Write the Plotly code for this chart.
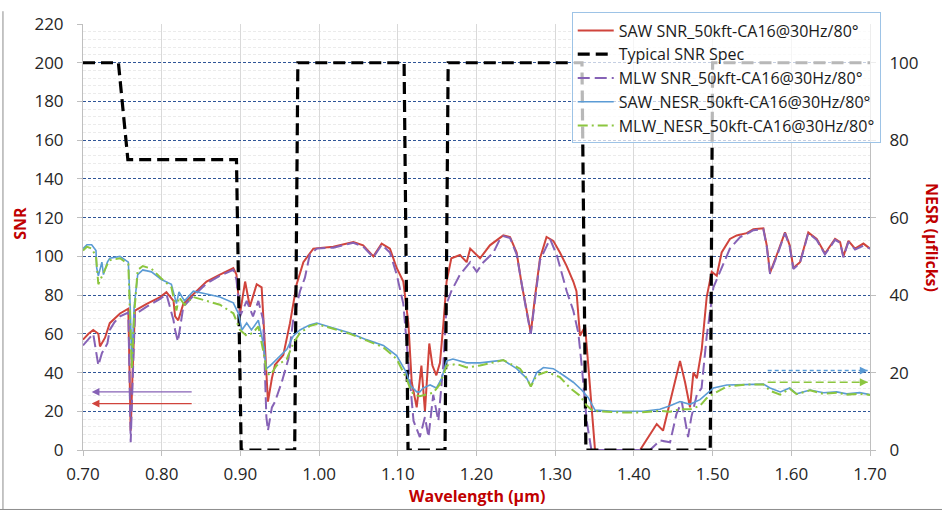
import plotly.graph_objects as go

# ---------------- data ----------------
wl_saw_snr = [0.700, 0.707, 0.713, 0.7195, 0.7216, 0.728, 0.734, 0.740, 0.747, 0.7576, 0.7606, 0.763, 0.766,
              0.781, 0.798, 0.806, 0.815, 0.817, 0.821, 0.8275, 0.840, 0.857, 0.874, 0.891, 0.895, 0.8995,
              0.906, 0.912, 0.9207, 0.927, 0.931, 0.935, 0.940, 0.944, 0.9545, 0.963, 0.9715, 0.980, 0.9927,
              1.018, 1.0435, 1.056, 1.069, 1.0795, 1.090, 1.0986, 1.107, 1.1134, 1.1177, 1.124, 1.130, 1.1345,
              1.140, 1.144, 1.149, 1.1536, 1.158, 1.162, 1.168, 1.179, 1.1875, 1.192, 1.2045, 1.217, 1.234,
              1.2426, 1.251, 1.2574, 1.2638, 1.269, 1.2743, 1.2807, 1.289, 1.2976, 1.306, 1.3146, 1.323, 1.327,
              1.3315, 1.338, 1.344, 1.3506, 1.4078, 1.416, 1.429, 1.437, 1.450, 1.4586, 1.465, 1.4713, 1.4756,
              1.480, 1.4862, 1.4925, 1.4989, 1.5053, 1.5115, 1.522, 1.5306, 1.5433, 1.5518, 1.5645, 1.5688,
              1.573, 1.5815, 1.592, 1.598, 1.6026, 1.611, 1.6216, 1.6323, 1.6428, 1.6556, 1.662, 1.6662,
              1.6726, 1.681, 1.6916, 1.700]
saw_snr = [57, 60, 62, 60, 53.5, 58, 65.5, 68, 70.5, 73, 10, 40, 72,
           75.5, 79, 81.5, 77, 69, 67, 75.5, 80.5, 87, 90.6, 94, 90.6, 70.5,
           87, 74, 85.6, 84, 55, 25, 37, 44, 49, 65.5, 85.6, 97, 104,
           105, 107.4, 105.7, 100, 106.6, 104, 94, 87, 65.5, 35, 22, 43.6, 20,
           55, 43.6, 38.6, 45, 65.5, 87, 99, 100.7, 97, 104, 99, 105.7, 110.8,
           110, 102, 85.6, 72, 60.4, 79, 99, 110, 108, 102, 95, 87, 82,
           59, 63.8, 33.6, 0, 0, 5, 13.4, 10, 32, 46, 35, 22, 40,
           37, 52, 79, 92, 90, 102, 109, 110.8, 112, 114, 114.5, 105.7,
           91.5, 100.7, 112.4, 105.7, 94, 97, 112.4, 109, 101.5, 109, 107.4, 100,
           108, 104, 106.6, 104]

wl_mlw_snr = [0.700, 0.707, 0.713, 0.7195, 0.724, 0.731, 0.734, 0.740, 0.747, 0.7576, 0.7606, 0.763, 0.766,
              0.781, 0.798, 0.806, 0.815, 0.817, 0.8206, 0.8275, 0.840, 0.857, 0.874, 0.891, 0.895, 0.8995,
              0.908, 0.916, 0.9228, 0.929, 0.933, 0.935, 0.940, 0.944, 0.9525, 0.961, 0.967, 0.9757, 0.982,
              0.988, 0.997, 1.018, 1.0435, 1.056, 1.069, 1.0795, 1.090, 1.0986, 1.107, 1.1134, 1.120, 1.128,
              1.1345, 1.139, 1.145, 1.1515, 1.158, 1.162, 1.168, 1.179, 1.192, 1.2003, 1.2088, 1.2215, 1.2299,
              1.234, 1.2426, 1.251, 1.2574, 1.2638, 1.269, 1.2743, 1.2807, 1.2934, 1.302, 1.3146, 1.323, 1.3294,
              1.3337, 1.340, 1.346, 1.4205, 1.4333, 1.446, 1.454, 1.4608, 1.4688, 1.473, 1.480, 1.486, 1.4925,
              1.501, 1.509, 1.522, 1.535, 1.5433, 1.5518, 1.5645, 1.5688, 1.573, 1.5815, 1.592, 1.598, 1.6026,
              1.611, 1.6216, 1.6323, 1.6428, 1.6556, 1.662, 1.6662, 1.6726, 1.681, 1.6916, 1.700]
mlw_snr = [54, 57, 60, 43.6, 50, 55, 62, 66, 69, 71, 4, 35, 70,
           74, 78, 80.5, 67, 62, 56, 74, 79.5, 86, 90, 93, 88, 69,
           77, 69, 77, 67, 17, 10, 22, 25, 35, 47, 67, 82, 89,
           100.7, 104, 104.5, 107, 105, 99.5, 106, 102, 90.6, 75.5, 45, 15, 6.7,
           17, 6.7, 28.5, 15, 45, 75.5, 82, 90.6, 97, 92, 97, 102, 109,
           110.5, 109.5, 101, 85, 71, 60, 78, 98, 109, 100.7, 82, 72, 60.4,
           43.6, 15, 0, 0, 5, 4, 18.5, 25, 6.7, 17, 28.5, 32, 58.7,
           84, 92, 104, 110, 111.5, 113.5, 114, 105, 91, 100, 112, 105, 93.5,
           96.5, 112, 108.5, 101, 108.5, 107, 99.5, 107.5, 103.5, 105.5, 104]

wl_saw_nesr = [0.700, 0.705, 0.711, 0.7165, 0.7174, 0.7195, 0.724, 0.726, 0.731, 0.734, 0.747, 0.7576, 0.760,
               0.762, 0.765, 0.7695, 0.776, 0.787, 0.7996, 0.8123, 0.8187, 0.822, 0.829, 0.8402, 0.857, 0.874,
               0.891, 0.8974, 0.902, 0.908, 0.914, 0.9228, 0.929, 0.933, 0.938, 0.946, 0.959, 0.967, 0.9757,
               0.988, 0.997, 1.018, 1.0393, 1.060, 1.0817, 1.0985, 1.111, 1.1155, 1.124, 1.128, 1.132, 1.141,
               1.149, 1.1557, 1.162, 1.170, 1.1875, 1.2045, 1.2215, 1.234, 1.251, 1.2638, 1.269, 1.2765, 1.285,
               1.2976, 1.3103, 1.323, 1.3337, 1.342, 1.3506, 1.374, 1.3908, 1.412, 1.433, 1.446, 1.4586, 1.4713,
               1.484, 1.4925, 1.501, 1.518, 1.5433, 1.5645, 1.573, 1.586, 1.598, 1.6068, 1.6238, 1.641, 1.6577,
               1.6705, 1.687, 1.700]
saw_nesr = [52, 53, 53, 51.5, 47, 45, 48.5, 45.3, 48.5, 49.5, 50, 48.5, 37,
            22.5, 37, 45.3, 46.5, 46, 44, 42.8, 37.8, 40.8, 38.5, 41, 40.3, 39.5,
            38, 35.3, 31, 32.8, 31, 33.5, 27.5, 21, 21.8, 23.5, 26, 29.4, 31,
            32.3, 32.8, 31.5, 30.2, 28.5, 27, 24.4, 20, 16.8, 15, 15, 16, 16.8,
            16, 18.5, 23, 23.5, 22.5, 22.5, 23, 23.2, 21, 18.5, 16.4, 20, 21.3,
            21, 19.3, 17.5, 15.5, 13.5, 10.3, 10, 10, 10, 10.5, 11.4, 12.5, 11.8,
            13, 14.5, 16, 16.8, 17, 17, 16, 15, 16, 14.5, 15.5, 14.8, 15,
            14.5, 14.8, 14.3]

wl_mlw_nesr = [0.700, 0.705, 0.711, 0.7165, 0.7195, 0.722, 0.726, 0.731, 0.734, 0.747, 0.7576, 0.760, 0.762,
               0.765, 0.7695, 0.776, 0.787, 0.7996, 0.8123, 0.8187, 0.822, 0.829, 0.8402, 0.857, 0.874, 0.891,
               0.8995, 0.908, 0.916, 0.9228, 0.931, 0.933, 0.938, 0.946, 0.959, 0.967, 0.9757, 0.988, 0.997,
               1.018, 1.0393, 1.060, 1.0817, 1.0985, 1.111, 1.1155, 1.120, 1.128, 1.1345, 1.145, 1.1536, 1.162,
               1.175, 1.1875, 1.2045, 1.2215, 1.234, 1.2553, 1.2638, 1.269, 1.2765, 1.289, 1.306, 1.319, 1.3315,
               1.340, 1.348, 1.3824, 1.408, 1.433, 1.446, 1.4586, 1.4713, 1.484, 1.4925, 1.501, 1.518, 1.5433,
               1.5645, 1.573, 1.586, 1.598, 1.6068, 1.6238, 1.641, 1.6577, 1.6705, 1.687, 1.700]
mlw_nesr = [51.5, 52.5, 52, 50, 42.8, 44, 46, 48, 49, 49.5, 48, 35, 21,
            35, 46.5, 47.5, 46.8, 44.3, 42, 36, 39.5, 37.5, 39.5, 38.5, 37.5, 35.3,
            31, 29.5, 30.3, 31.9, 23.5, 20, 19.3, 21.8, 23.5, 27.5, 30.2, 32, 32.5,
            31.3, 30, 28.3, 26.5, 23.5, 18.5, 16, 14.3, 13.9, 14.3, 14.8, 17, 21.8,
            22.2, 21.3, 21.8, 22.5, 23.2, 21, 18.5, 16.4, 19.3, 20.2, 18.8, 16, 14,
            11.5, 10.1, 9.7, 9.7, 10.1, 9.9, 10.5, 10.5, 11.4, 13.4, 14.5, 16.4, 16.9,
            16.9, 15.3, 14.3, 15.8, 14.4, 15.4, 14.5, 14.8, 14.3, 14.5, 14.2]

wl_spec = [0.700, 0.745, 0.757, 0.895, 0.901, 0.969, 0.973, 1.108, 1.113, 1.160, 1.164, 1.334, 1.339,
           1.497, 1.500, 1.700]
spec_snr = [200, 200, 150, 150, 0, 0, 200, 200, 0, 0, 200, 200, 0, 0, 200, 200]

x_ticks = [0.70, 0.80, 0.90, 1.00, 1.10, 1.20, 1.30, 1.40, 1.50, 1.60, 1.70]

# arrows: (start, end, level)
snr_arrow_span = [0.840, 0.711]
snr_arrow_levels = {"MLW": 30, "SAW": 24}
nesr_arrow_span = [1.570, 1.697]
nesr_arrow_levels = {"SAW": 20.5, "MLW": 17.5}

for a, b in [(wl_saw_snr, saw_snr), (wl_mlw_snr, mlw_snr), (wl_saw_nesr, saw_nesr),
             (wl_mlw_nesr, mlw_nesr), (wl_spec, spec_snr)]:
    assert len(a) == len(b), (len(a), len(b))

RED = "#D0443C"
PURPLE = "#8662B6"
BLUE = "#5B9BD5"
GREEN = "#8CC63F"
BLACK = "#000000"
TITLE_RED = "#C00000"
FONT = "Open Sans"

fig = go.Figure()

fig.add_trace(go.Scatter(x=wl_saw_snr, y=saw_snr, mode="lines", name="SAW SNR_50kft-CA16@30Hz/80°",
                         line=dict(color=RED, width=2), legendrank=1))
fig.add_trace(go.Scatter(x=wl_mlw_snr, y=mlw_snr, mode="lines", name="MLW SNR_50kft-CA16@30Hz/80°",
                         line=dict(color=PURPLE, width=2, dash="12px,5px"), legendrank=3))
fig.add_trace(go.Scatter(x=wl_spec, y=spec_snr, mode="lines", name="Typical SNR Spec",
                         line=dict(color=BLACK, width=3.2, dash="12px,6px"), legendrank=2))
fig.add_trace(go.Scatter(x=wl_saw_nesr, y=saw_nesr, mode="lines", name="SAW_NESR_50kft-CA16@30Hz/80°",
                         line=dict(color=BLUE, width=1.6), yaxis="y2", legendrank=4))
fig.add_trace(go.Scatter(x=wl_mlw_nesr, y=mlw_nesr, mode="lines", name="MLW_NESR_50kft-CA16@30Hz/80°",
                         line=dict(color=GREEN, width=2, dash="10px,4px,2px,4px"), yaxis="y2", legendrank=5))

# dashed arrow shafts (NESR, right axis)
fig.add_trace(go.Scatter(x=nesr_arrow_span, y=[nesr_arrow_levels["SAW"]] * 2, mode="lines", yaxis="y2",
                         line=dict(color=BLUE, width=1.5, dash="4px,3px"), showlegend=False, hoverinfo="skip"))
fig.add_trace(go.Scatter(x=nesr_arrow_span, y=[nesr_arrow_levels["MLW"]] * 2, mode="lines", yaxis="y2",
                         line=dict(color=GREEN, width=1.5, dash="8px,4px"), showlegend=False, hoverinfo="skip"))

annotations = []
# left-pointing SNR arrows
for key, col in [("MLW", PURPLE), ("SAW", RED)]:
    lvl = snr_arrow_levels[key]
    annotations.append(dict(x=snr_arrow_span[1], y=lvl, ax=snr_arrow_span[0], ay=lvl,
                            xref="x", yref="y", axref="x", ayref="y", showarrow=True, text="",
                            arrowhead=2, arrowsize=1.3, arrowwidth=1.2, arrowcolor=col))
# right-pointing NESR arrow heads
for key, col in [("SAW", BLUE), ("MLW", GREEN)]:
    lvl = nesr_arrow_levels[key]
    annotations.append(dict(x=nesr_arrow_span[1], y=lvl, ax=nesr_arrow_span[1] - 0.01, ay=lvl,
                            xref="x", yref="y2", axref="x", ayref="y2", showarrow=True, text="",
                            arrowhead=2, arrowsize=1.3, arrowwidth=1.2, arrowcolor=col))

# axis titles
annotations.append(dict(text="<b>SNR</b>", x=-0.080, y=0.531, xref="paper", yref="paper", showarrow=False,
                         textangle=-90, font=dict(family=FONT, size=16, color=TITLE_RED),
                         xanchor="center", yanchor="middle"))
annotations.append(dict(text="<b>NESR (µflicks)</b>", x=1.0788, y=0.50, xref="paper", yref="paper",
                         showarrow=False, textangle=90, font=dict(family=FONT, size=16, color=TITLE_RED),
                         xanchor="center", yanchor="middle"))
annotations.append(dict(text="<b>Wavelength (µm)</b>", x=0.5, y=-0.1076, xref="paper", yref="paper",
                         showarrow=False, font=dict(family=FONT, size=16, color=TITLE_RED),
                         xanchor="center", yanchor="middle"))

shapes = [
    dict(type="line", xref="paper", yref="paper", x0=-0.1017, x1=-0.1017, y0=-0.1396, y1=1.03,
         line=dict(color="#8c8c8c", width=1)),
    dict(type="line", xref="paper", yref="paper", x0=-0.106, x1=1.092, y0=-0.1396, y1=-0.1396,
         line=dict(color="#8c8c8c", width=1)),
]

fig.update_layout(
    width=942, height=515,
    margin=dict(l=83, r=72, t=13, b=65),
    paper_bgcolor="white", plot_bgcolor="white",
    font=dict(family=FONT, size=17, color="#262626"),
    showlegend=True,
    legend=dict(x=0.621, y=1.027, xanchor="left", yanchor="top",
                bgcolor="rgba(255,255,255,0.72)", bordercolor="#9DC3E6", borderwidth=1,
                font=dict(family=FONT, size=16, color="#1a1a1a"),
                itemwidth=36, tracegroupgap=0),
    xaxis=dict(range=[0.70, 1.70], tickvals=x_ticks, tickformat=".2f",
               showgrid=True, gridcolor="#d9d9d9", gridwidth=1,
               ticks="outside", ticklen=5, tickcolor="#bfbfbf",
               showline=True, linecolor="#bfbfbf", linewidth=1, zeroline=False,
               ticklabelstandoff=4),
    yaxis=dict(range=[0, 220], dtick=20, tick0=0,
               showgrid=True, gridcolor="#2F5597", gridwidth=1, griddash="3px,2px",
               minor=dict(dtick=4, showgrid=True, gridcolor="#ebebeb", gridwidth=1),
               ticks="outside", ticklen=5, tickcolor="#bfbfbf",
               showline=True, linecolor="#bfbfbf", linewidth=1, zeroline=False,
               ticklabelstandoff=10),
    yaxis2=dict(range=[0, 110], dtick=20, tick0=0, overlaying="y", side="right",
                showgrid=False, ticks="outside", ticklen=5, tickcolor="#bfbfbf",
                showline=True, linecolor="#bfbfbf", linewidth=1, zeroline=False,
                ticklabelstandoff=10),
    annotations=annotations,
    shapes=shapes,
)

fig.write_html("out.html")
